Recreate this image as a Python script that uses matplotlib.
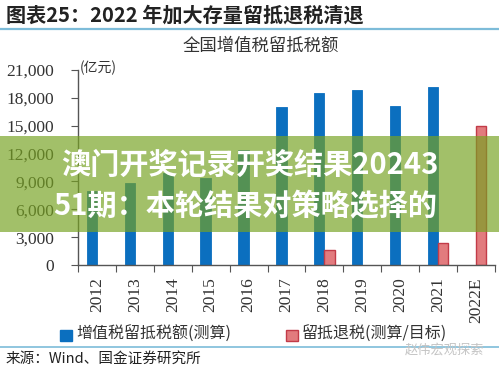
import matplotlib
matplotlib.use('Agg')
import matplotlib.pyplot as plt
from matplotlib.patches import Rectangle
from matplotlib.lines import Line2D
import numpy as np

# data
years = ['2012', '2013', '2014', '2015', '2016', '2017', '2018', '2019', '2020', '2021', '2022E']
vat_credit = [8000, 8800, 9900, 9400, 12400, 17000, 18500, 18800, 17100, 19150, np.nan]
refund = [np.nan, np.nan, np.nan, np.nan, np.nan, np.nan, 1600, np.nan, np.nan, 2400, 15000]
yticks = [0, 3000, 6000, 9000, 12000, 15000, 18000, 21000]

blue = '#0b6fbf'
red_fill = '#e27b7e'
red_edge = '#c23b48'
line_blue = '#7dbcd9'
cjk = ['Noto Sans CJK SC', 'DejaVu Sans']
serif = ['Liberation Serif', 'Noto Sans CJK SC']

W, H = 499, 369
fig = plt.figure(figsize=(W / 100, H / 100), dpi=100)
fig.patch.set_facecolor('white')

def px(x, y):
	return x / W, 1 - y / H

# header
fig.text(*px(6, 15), '图表25：2022 年加大存量留抵退税清退', family=cjk, fontsize=14.5,
	fontweight='bold', va='center', ha='left', color='#222222')
fig.add_artist(Line2D([0, 1], [1 - 29 / H] * 2, color=line_blue, lw=1.6))
fig.text(*px(261, 46), '全国增值税留抵税额', family=cjk, fontsize=12.5, va='center', ha='center', color='#333333')

# main axes
ax = fig.add_axes([78 / W, 104 / H, 417 / W, 195 / H])
x = np.arange(len(years))
w = 0.27
ax.bar(x - w / 2, vat_credit, width=w, color=blue, edgecolor=blue, lw=0.6, zorder=2)
ax.bar(x + w / 2, refund, width=w, color=red_fill, edgecolor=red_edge, lw=1.0, zorder=2)

ax.set_xlim(-0.5, len(years) - 0.5)
ax.set_ylim(0, 21000)
ax.set_yticks(yticks)
ax.set_yticklabels(['{:,}'.format(v) for v in yticks], family=serif, fontsize=12.5, color='#333333')
ax.set_xticks(np.arange(len(years) + 1) - 0.5)
ax.set_xticklabels([])
ax.set_xticks(x, minor=True)
ax.set_xticklabels(years, minor=True, rotation=90, family=serif, fontsize=12.5, color='#333333')
ax.tick_params(axis='x', which='major', direction='out', length=5, color='#555555')
ax.tick_params(axis='x', which='minor', length=0, pad=9)
ax.tick_params(axis='y', direction='out', length=5, color='#555555', pad=12)
for s in ['top', 'right']:
	ax.spines[s].set_visible(False)
for s in ['left', 'bottom']:
	ax.spines[s].set_color('#555555')
	ax.spines[s].set_linewidth(1.0)
ax.text(0.004, 1.01, '(亿元)', transform=ax.transAxes, family=cjk, fontsize=10, va='center', ha='left', color='#333333')

# legend
fig.add_artist(Rectangle(px(60, 341), 12 / W, 11 / H, transform=fig.transFigure, color=blue))
fig.text(*px(76, 334), '增值税留抵税额(测算)', family=cjk, fontsize=11.5, va='center', color='#333333')
fig.add_artist(Rectangle(px(286, 341), 12 / W, 11 / H, transform=fig.transFigure,
	facecolor=red_fill, edgecolor=red_edge, lw=1))
fig.text(*px(302, 334), '留抵退税(测算/目标)', family=cjk, fontsize=11.5, va='center', color='#333333')

# footer
fig.add_artist(Line2D([0, 1], [1 - 347 / H] * 2, color=line_blue, lw=1.2))
fig.text(*px(6, 359), '来源：Wind、国金证券研究所', family=cjk, fontsize=10.5, va='center', color='#222222')
fig.text(*px(484, 350), '赵伟宏观探索', family=cjk, fontsize=9.5, va='center', ha='right', color='#c4c4c4')

# overlay banner
fig.add_artist(Rectangle(px(0, 232), 1, 96 / H, transform=fig.transFigure,
	facecolor='#77a222', alpha=0.68, zorder=5, lw=0))
fig.text(*px(250, 165), '澳门开奖记录开奖结果20243', family=cjk, fontsize=21, fontweight='bold',
	va='center', ha='center', color='white', zorder=6)
fig.text(*px(245, 206), '51期：本轮结果对策略选择的', family=cjk, fontsize=21, fontweight='bold',
	va='center', ha='center', color='white', zorder=6)

fig.savefig('out.png', dpi=100)
